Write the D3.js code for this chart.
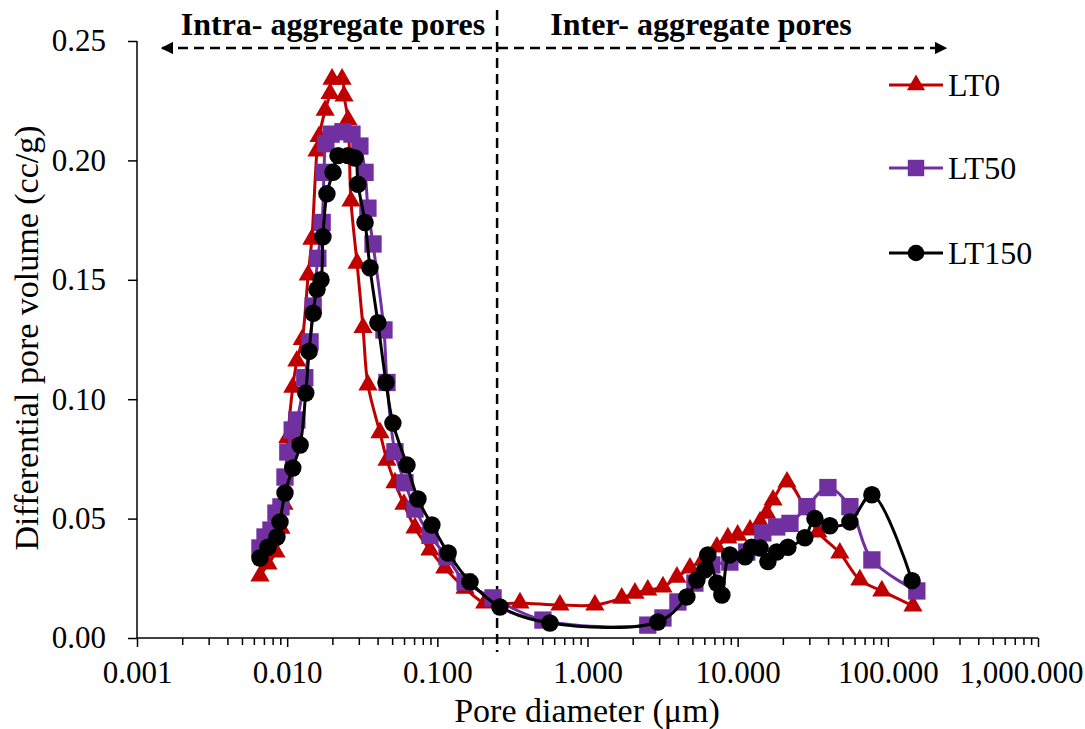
<!DOCTYPE html>
<html>
<head>
<meta charset="utf-8">
<script src="https://cdn.jsdelivr.net/npm/d3@7"></script>
<style>
  body { margin: 0; background: #fff; }
  svg { display: block; font-family: "Liberation Serif", "Times New Roman", serif; }
</style>
</head>
<body>
<div id="chart"></div>
<script>
// Pore diameters (um) and differential pore volume (cc/g)
var lt0Diam = [0.00659, 0.00745, 0.00842, 0.00909, 0.00952, 0.0101, 0.0109, 0.0116, 0.0126, 0.0138,
  0.0146, 0.0158, 0.0163, 0.0179, 0.0193, 0.0199, 0.0232, 0.0239, 0.0254, 0.0266,
  0.0292, 0.0320, 0.0345, 0.0415, 0.0462, 0.0522, 0.0599, 0.0710, 0.0893, 0.112,
  0.153, 0.207, 0.355, 0.655, 1.12, 1.69, 2.07, 2.52, 3.18, 3.94,
  4.81, 5.87, 7.27, 8.60, 10.0, 12.1, 14.1, 15.6, 17.2, 21.3,
  34.2, 47.9, 65.1, 91.2, 147];
var lt0Vol = [0.026, 0.031, 0.036, 0.046, 0.056, 0.084, 0.105, 0.116, 0.125, 0.152,
  0.167, 0.204, 0.210, 0.221, 0.228, 0.234, 0.234, 0.227, 0.217, 0.183,
  0.157, 0.130, 0.106, 0.086, 0.0745, 0.065, 0.056, 0.0461, 0.0369, 0.0293,
  0.0209, 0.0147, 0.0147, 0.0138, 0.0138, 0.0167, 0.0188, 0.0201, 0.0214, 0.0255,
  0.0293, 0.0327, 0.0381, 0.0419, 0.0431, 0.0452, 0.0486, 0.0523, 0.0578, 0.0653,
  0.0444, 0.0356, 0.0243, 0.0197, 0.0134];

var lt50Diam = [0.00659, 0.00712, 0.00780, 0.00842, 0.00909, 0.00967, 0.0101, 0.0108, 0.0116, 0.0131,
  0.0142, 0.0149, 0.0160, 0.0171, 0.0176, 0.0181, 0.0196, 0.0235, 0.0270, 0.0305,
  0.0330, 0.0345, 0.0373, 0.0441, 0.0462, 0.0522, 0.0609, 0.0710, 0.0893, 0.116,
  0.153, 0.235, 0.505, 2.52, 3.18, 4.00, 5.19, 6.73, 8.87, 11.5,
  14.7, 18.2, 22.3, 28.9, 39.9, 55.9, 78.3, 156];
var lt50Vol = [0.0377, 0.0423, 0.0452, 0.0523, 0.0549, 0.0674, 0.0779, 0.0871, 0.0913, 0.109,
  0.124, 0.139, 0.159, 0.174, 0.195, 0.207, 0.211, 0.212, 0.211, 0.206,
  0.195, 0.180, 0.165, 0.129, 0.107, 0.078, 0.065, 0.054, 0.043, 0.034,
  0.0235, 0.0168, 0.0075, 0.0054, 0.0084, 0.0151, 0.023, 0.0306, 0.0318, 0.036,
  0.044, 0.0465, 0.048, 0.055, 0.063, 0.055, 0.0327, 0.0197];

var lt150Diam = [0.00659, 0.00745, 0.00855, 0.00896, 0.00967, 0.0109, 0.0122, 0.0133, 0.0140, 0.0149,
  0.0158, 0.0168, 0.0173, 0.0184, 0.0202, 0.0218, 0.0254, 0.0283, 0.0296, 0.0330,
  0.0356, 0.0402, 0.0455, 0.0506, 0.0628, 0.0743, 0.0920, 0.118, 0.165, 0.261,
  0.562, 2.94, 4.59, 5.35, 6.05, 6.33, 7.27, 7.85, 8.87, 11.2,
  12.4, 14.1, 15.9, 18.2, 21.6, 28.0, 32.7, 41.1, 55.9, 78.3,
  145];
var lt150Vol = [0.0335, 0.038, 0.0423, 0.0486, 0.0607, 0.0712, 0.0808, 0.1026, 0.120, 0.136,
  0.146, 0.150, 0.168, 0.186, 0.195, 0.202, 0.202, 0.201, 0.190, 0.174,
  0.155, 0.132, 0.107, 0.090, 0.0724, 0.0582, 0.0473, 0.0356, 0.0235, 0.0130,
  0.0063, 0.0067, 0.0172, 0.0243, 0.0285, 0.0348, 0.023, 0.018, 0.0348, 0.034,
  0.038, 0.0377, 0.032, 0.036, 0.038, 0.042, 0.050, 0.047, 0.0486, 0.060,
  0.024];

var seriesNames = ["LT0", "LT50", "LT150"];
var xTicks = [0.001, 0.01, 0.1, 1, 10, 100, 1000];
var yTicks = [0, 0.05, 0.10, 0.15, 0.20, 0.25];
var splitDiam = 0.25;

var width = 1085, height = 729;
var plotLeft = 137, plotRight = 1038, plotTop = 41, plotBottom = 638;
var serif = "Liberation Serif, Times New Roman, serif";

var svg = d3.select("#chart").append("svg")
  .attr("width", width)
  .attr("height", height);

var x = d3.scaleLog().domain([0.001, 1000]).range([plotLeft, plotRight]);
var y = d3.scaleLinear().domain([0, 0.25]).range([plotBottom, plotTop]);

// Axes
var minors = [];
for (var e = -3; e < 3; e++) {
  for (var m = 2; m <= 9; m++) minors.push(m * Math.pow(10, e));
}

svg.append("g")
  .attr("transform", "translate(0," + plotBottom + ")")
  .call(d3.axisBottom(x).tickValues(minors).tickSize(7).tickFormat(""))
  .call(function(g) { g.select(".domain").remove(); })
  .selectAll("line").attr("stroke-width", 1.5);

var xAxis = svg.append("g")
  .attr("transform", "translate(0," + plotBottom + ")")
  .call(d3.axisBottom(x).tickValues(xTicks).tickSize(9).tickPadding(14)
    .tickFormat(d3.format(",.3f")));
xAxis.select(".domain").attr("stroke-width", 1.5).attr("d", "M" + plotLeft + ",0H" + plotRight);
xAxis.selectAll("line").attr("stroke-width", 1.5);
xAxis.selectAll("text").attr("font-size", 31).attr("fill", "#000").attr("font-family", serif);
// last label sits flush with the right edge, as in the original
xAxis.selectAll("text").filter(function(d) { return d === 1000; })
  .attr("text-anchor", "end").attr("x", 1083 - x(1000));

var yAxis = svg.append("g")
  .attr("transform", "translate(" + plotLeft + ",0)")
  .call(d3.axisLeft(y).tickValues(yTicks).tickSize(9).tickPadding(22)
    .tickFormat(d3.format(".2f")));
yAxis.select(".domain").attr("stroke-width", 1.5).attr("d", "M0," + plotTop + "V" + plotBottom);
yAxis.selectAll("line").attr("stroke-width", 1.5);
yAxis.selectAll("text").attr("font-size", 31).attr("fill", "#000").attr("font-family", serif);

// Axis titles
svg.append("text")
  .attr("x", 587)
  .attr("y", 722)
  .attr("text-anchor", "middle")
  .attr("font-size", 34)
  .text("Pore diameter (μm)");

svg.append("text")
  .attr("transform", "translate(38,338) rotate(-90)")
  .attr("text-anchor", "middle")
  .attr("font-size", 34)
  .text("Differential pore volume (cc/g)");

// Split line between intra- and inter-aggregate pores
svg.append("line")
  .attr("x1", x(splitDiam)).attr("x2", x(splitDiam))
  .attr("y1", 10).attr("y2", 652)
  .attr("stroke", "#000")
  .attr("stroke-width", 2.5)
  .attr("stroke-dasharray", "10,6");

// Double arrow along the top
var defs = svg.append("defs");
defs.append("marker").attr("id", "arrowEnd")
  .attr("viewBox", "0 0 10 10").attr("refX", 9).attr("refY", 5)
  .attr("markerWidth", 5).attr("markerHeight", 5).attr("orient", "auto")
  .append("path").attr("d", "M0,0L10,5L0,10Z").attr("fill", "#000");
defs.append("marker").attr("id", "arrowStart")
  .attr("viewBox", "0 0 10 10").attr("refX", 1).attr("refY", 5)
  .attr("markerWidth", 5).attr("markerHeight", 5).attr("orient", "auto")
  .append("path").attr("d", "M10,0L0,5L10,10Z").attr("fill", "#000");

svg.append("line")
  .attr("x1", 162).attr("x2", 946)
  .attr("y1", 48).attr("y2", 48)
  .attr("stroke", "#000")
  .attr("stroke-width", 2.5)
  .attr("stroke-dasharray", "10,6")
  .attr("marker-start", "url(#arrowStart)")
  .attr("marker-end", "url(#arrowEnd)");

svg.append("text")
  .attr("x", 333).attr("y", 35)
  .attr("text-anchor", "middle")
  .attr("font-size", 32).attr("font-weight", "bold")
  .text("Intra- aggregate pores");

svg.append("text")
  .attr("x", 701).attr("y", 35)
  .attr("text-anchor", "middle")
  .attr("font-size", 32).attr("font-weight", "bold")
  .text("Inter- aggregate pores");

// Series
var series = [
  { name: seriesNames[0], diam: lt0Diam, vol: lt0Vol, color: "#C00000", shape: d3.symbolTriangle, size: 160 },
  { name: seriesNames[1], diam: lt50Diam, vol: lt50Vol, color: "#7030A0", shape: d3.symbolSquare, size: 300 },
  { name: seriesNames[2], diam: lt150Diam, vol: lt150Vol, color: "#000000", shape: d3.symbolCircle, size: 240 }
];

var line = d3.line()
  .x(function(d) { return x(d[0]); })
  .y(function(d) { return y(d[1]); })
  .curve(d3.curveCatmullRom.alpha(0.5));

series.forEach(function(s) {
  var pts = s.diam.map(function(d, i) { return [d, s.vol[i]]; });
  var g = svg.append("g");
  g.append("path")
    .attr("d", line(pts))
    .attr("fill", "none")
    .attr("stroke", s.color)
    .attr("stroke-width", 3);
  g.selectAll("path.pt")
    .data(pts)
    .enter().append("path")
    .attr("class", "pt")
    .attr("transform", function(d) { return "translate(" + x(d[0]) + "," + y(d[1]) + ")"; })
    .attr("d", d3.symbol().type(s.shape).size(s.size))
    .attr("fill", s.color);
});

// Legend
var legendY = [85, 168, 253];
series.forEach(function(s, i) {
  var lg = svg.append("g").attr("transform", "translate(0," + legendY[i] + ")");
  lg.append("line").attr("x1", 889).attr("x2", 943)
    .attr("stroke", s.color).attr("stroke-width", 3);
  lg.append("path")
    .attr("transform", "translate(916,0)")
    .attr("d", d3.symbol().type(s.shape).size(s.size * 0.9))
    .attr("fill", s.color);
  lg.append("text").attr("x", 948).attr("y", 11)
    .attr("font-size", 32)
    .text(s.name);
});
</script>
</body>
</html>
